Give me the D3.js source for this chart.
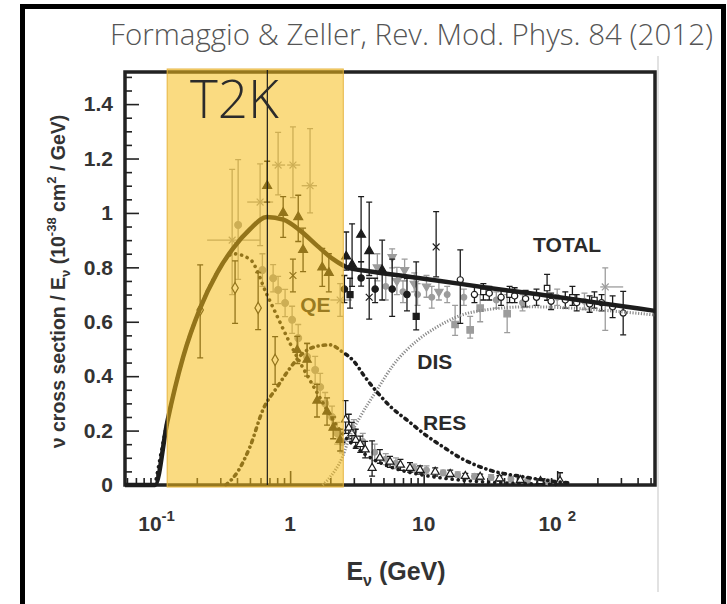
<!DOCTYPE html>
<html>
<head>
<meta charset="utf-8">
<script src="https://cdn.jsdelivr.net/npm/d3@7"></script>
<style>
  body { margin: 0; background: #fff; }
  svg { display: block; font-family: "Liberation Sans", Arial, sans-serif; }
</style>
</head>
<body>
<div id="chart"></div>
<script>
'use strict'

// Curves (E in GeV, sigma/E in 1e-38 cm2/GeV).
const totalCurve = [[0.058, 0], [0.0975, 0], [0.12, 0.23], [0.158, 0.47], [0.212, 0.65], [0.284, 0.78],
    [0.374, 0.87], [0.5, 0.94], [0.67, 0.985], [0.89, 0.975], [1.19, 0.935], [1.59, 0.88], [2.1, 0.83],
    [2.67, 0.80], [4.0, 0.785], [6.7, 0.77], [13.3, 0.75], [30, 0.725], [74, 0.70], [200, 0.67], [540, 0.64]];
const qeCurve = [[0.0975, 0], [0.12, 0.23], [0.158, 0.47], [0.212, 0.65], [0.284, 0.78], [0.374, 0.85],
    [0.5, 0.83], [0.67, 0.70], [0.8, 0.62], [1.0, 0.52], [1.25, 0.43], [1.59, 0.34], [2.0, 0.255],
    [2.45, 0.19], [3.0, 0.145], [4.0, 0.10], [6.0, 0.062], [10, 0.036], [20, 0.017], [50, 0.006], [100, 0.002]];
const resCurve = [[0.33, 0], [0.4, 0.045], [0.5, 0.14], [0.63, 0.28], [0.8, 0.36], [1.0, 0.43], [1.25, 0.485],
    [1.59, 0.51], [2.0, 0.515], [2.45, 0.49], [3.0, 0.455], [3.6, 0.40], [4.5, 0.34], [5.6, 0.29],
    [7.9, 0.23], [10.6, 0.18], [14, 0.14], [18.8, 0.10], [31, 0.055], [56, 0.03], [100, 0.012], [130, 0.006]];
const disCurve = [[1.75, 0], [2.0, 0.03], [2.45, 0.10], [2.81, 0.18], [3.34, 0.25], [4.48, 0.35], [5.9, 0.44],
    [8.9, 0.53], [12.5, 0.58], [23, 0.635], [60, 0.655], [540, 0.625]];

// Data points: [E, value, errDown, errUp] (optional Elow, Ehigh).
const blackTriangles = [[0.673, 1.10, 0.06, 0.09], [0.887, 1.00, 0.09, 0.06], [1.15, 0.985, 0.09, 0.08],
    [1.25, 0.864, 0.08, 0.08], [1.74, 0.80, 0.07, 0.07], [1.95, 0.78, 0.07, 0.07], [2.63, 0.84, 0.05, 0.09],
    [2.91, 0.81, 0.08, 0.15], [3.40, 0.92, 0.10, 0.14], [3.91, 0.86, 0.09, 0.18], [4.89, 0.79, 0.11, 0.11]];
const blackCircles = [[2.55, 0.72, 0.05, 0.05], [3.40, 0.761, 0.03, 0.06], [4.33, 0.72, 0.05, 0.04],
    [5.81, 0.72, 0.10, 0.11], [7.5, 0.70, 0.06, 0.06]];
const blackSquares = [[2.81, 0.70, 0.05, 0.06], [8.79, 0.62, 0.05, 0.20]];
const blackStars = [[1.05, 0.77, 0.06, 0.06], [3.91, 0.69, 0.08, 0.07], [12.4, 0.875, 0.11, 0.13]];
const openCircles = [[18.8, 0.754, 0.16, 0.11], [24, 0.70, 0.03, 0.03], [31, 0.705, 0.025, 0.025],
    [38, 0.69, 0.03, 0.03], [48, 0.695, 0.025, 0.03], [58, 0.685, 0.03, 0.03], [70, 0.69, 0.03, 0.03],
    [90, 0.675, 0.03, 0.03], [115, 0.68, 0.03, 0.03], [140, 0.67, 0.03, 0.03], [175, 0.665, 0.03, 0.03],
    [215, 0.67, 0.03, 0.03], [260, 0.655, 0.04, 0.04], [312, 0.632, 0.08, 0.08]];
const openSquares = [[28, 0.71, 0.03, 0.03], [44, 0.70, 0.03, 0.03], [84, 0.724, 0.045, 0.05],
    [130, 0.69, 0.03, 0.04], [190, 0.68, 0.03, 0.03]];
const graySquares = [[17.2, 0.59, 0.04, 0.07], [22.3, 0.57, 0.03, 0.05], [26.5, 0.65, 0.05, 0.05],
    [42.2, 0.63, 0.07, 0.07]];
const grayTriDown = [[4.5, 0.80, 0.05, 0.05], [5.81, 0.838, 0.04, 0.03], [6.3, 0.75, 0.05, 0.05],
    [7.2, 0.79, 0.04, 0.04], [8.5, 0.74, 0.03, 0.04], [10.5, 0.73, 0.04, 0.04], [13, 0.71, 0.03, 0.04]];
const grayCirclesTotal = [[5.2, 0.73, 0.05, 0.05], [7.0, 0.71, 0.04, 0.04], [9.0, 0.70, 0.04, 0.04],
    [11.5, 0.69, 0.04, 0.04], [15, 0.70, 0.03, 0.03], [20, 0.69, 0.03, 0.03], [35, 0.68, 0.03, 0.03],
    [55, 0.67, 0.03, 0.03], [100, 0.69, 0.03, 0.03], [160, 0.675, 0.03, 0.03]];
const grayStarsH = [[0.368, 0.90, 0.2, 0.26, 0.239, 0.596], [0.596, 1.04, 0.16, 0.14, 0.477, 0.746],
    [0.813, 1.176, 0.11, 0.12, 0.733, 0.917], [1.05, 1.176, 0.12, 0.14, 0.95, 1.19],
    [1.41, 1.10, 0.10, 0.21, 1.22, 1.59], [2.37, 0.68, 0.06, 0.06, 2.0, 2.9], [229, 0.728, 0.16, 0.07, 210, 312]];
const grayCirclesQE = [[0.408, 0.956, 0.2, 0.24], [0.62, 0.79, 0.06, 0.06], [0.746, 0.76, 0.05, 0.05],
    [0.813, 0.717, 0.05, 0.05], [0.917, 0.669, 0.05, 0.05], [1.035, 0.607, 0.05, 0.05], [1.15, 0.54, 0.05, 0.05],
    [1.34, 0.471, 0.05, 0.05], [1.54, 0.423, 0.05, 0.05], [1.68, 0.36, 0.05, 0.05], [1.83, 0.30, 0.04, 0.04],
    [2.06, 0.25, 0.04, 0.04], [2.25, 0.19, 0.04, 0.04], [2.45, 0.158, 0.04, 0.04]];
const qeTriangles = [[1.13, 0.496, 0.05, 0.05], [1.34, 0.46, 0.06, 0.06], [1.59, 0.31, 0.06, 0.06],
    [1.89, 0.27, 0.05, 0.05], [2.10, 0.21, 0.04, 0.04], [2.37, 0.165, 0.04, 0.04]];
const openDiamonds = [[0.212, 0.643, 0.176, 0.166], [0.387, 0.724, 0.13, 0.10], [0.576, 0.651, 0.08, 0.13],
    [0.772, 0.46, 0.09, 0.085]];
const openTriangles = [[2.6, 0.24, 0.05, 0.07], [2.75, 0.21, 0.04, 0.05], [2.9, 0.19, 0.03, 0.04],
    [3.1, 0.165, 0.03, 0.04], [3.35, 0.15, 0.03, 0.03], [3.65, 0.13, 0.03, 0.03], [4.11, 0.0625, 0.03, 0.10],
    [4.7, 0.10, 0.02, 0.03], [5.6, 0.085, 0.02, 0.02], [6.7, 0.074, 0.02, 0.02], [7.9, 0.062, 0.015, 0.02],
    [9.4, 0.055, 0.015, 0.015], [12.2, 0.048, 0.015, 0.015], [15.8, 0.040, 0.01, 0.015], [20.5, 0.033, 0.01, 0.01],
    [26.5, 0.030, 0.01, 0.01], [37, 0.024, 0.01, 0.01], [53, 0.018, 0.008, 0.01], [75, 0.014, 0.008, 0.008],
    [105, 0.015, 0.01, 0.03]];
const grayCirclesLow = [[3.0, 0.20, 0.04, 0.04], [3.5, 0.16, 0.03, 0.03], [4.3, 0.12, 0.03, 0.03],
    [5.2, 0.095, 0.02, 0.02], [6.2, 0.08, 0.02, 0.02], [8.5, 0.062, 0.015, 0.015], [10.5, 0.055, 0.015, 0.015],
    [14, 0.045, 0.01, 0.01], [18, 0.038, 0.01, 0.01], [24, 0.032, 0.01, 0.01], [32, 0.028, 0.01, 0.01],
    [45, 0.022, 0.01, 0.01], [60, 0.018, 0.008, 0.008], [85, 0.012, 0.008, 0.008]];

// Ticks and labels.
const xMajor = [0.1, 1, 10, 100];
const xTickLabels = [['10', '-1'], ['1', ''], ['10', ''], ['10 ', '2']];
const yTicks = [0, 0.2, 0.4, 0.6, 0.8, 1.0, 1.2, 1.4];
const yTickLabels = ['0', '0.2', '0.4', '0.6', '0.8', '1', '1.2', '1.4'];
const curveLabels = [['TOTAL', 66, 0.857], ['DIS', 8.95, 0.426], ['RES', 9.9, 0.202], ['QE', 1.19, 0.636]];
const t2kBand = [0.12, 2.5];
const t2kPeak = 0.675;

// Dimensions.
const width = 727, height = 604;
const plot = {left: 125, right: 655, top: 72, bottom: 485};
const lightFont = '"Open Sans", "Noto Sans", sans-serif';

const svg = d3.select('#chart')
    .append('svg')
        .attr('width', width)
        .attr('height', height);

// Outer frame.
svg.append('rect')
    .attr('x', 22.5).attr('y', 6.5)
    .attr('width', 701).attr('height', 700)
    .attr('fill', 'none').attr('stroke', '#000').attr('stroke-width', 5);

svg.append('line')
    .attr('x1', 658).attr('x2', 658).attr('y1', 56).attr('y2', 592)
    .attr('stroke', '#e2e2e2').attr('stroke-width', 2);

// Scales.
const x = d3.scaleLog().domain([0.058, 540]).range([plot.left, plot.right]);
const y = d3.scaleLinear().domain([0, 1.518]).range([plot.bottom, plot.top]);

// Axes (ticks pointing inside).
const xMinor = x.ticks().filter(v => !xMajor.some(m => Math.abs(m - v) < 1e-9));
const yMinor = y.ticks(30).filter(v => !yTicks.some(m => Math.abs(m - v) < 1e-9));

const axisStyle = g => {
    g.select('.domain').remove();
    g.selectAll('.tick line').attr('stroke', '#222').attr('stroke-width', 1.6);
};

svg.append('g')
    .attr('transform', `translate(0, ${plot.bottom})`)
    .call(d3.axisBottom(x).tickValues(xMajor).tickSize(-14).tickFormat(''))
    .call(axisStyle);
svg.append('g')
    .attr('transform', `translate(0, ${plot.bottom})`)
    .call(d3.axisBottom(x).tickValues(xMinor).tickSize(-7).tickFormat(''))
    .call(axisStyle);
svg.append('g')
    .attr('transform', `translate(${plot.left}, 0)`)
    .call(d3.axisLeft(y).tickValues(yTicks).tickSize(-14).tickPadding(12)
        .tickFormat((d, i) => yTickLabels[i]))
    .call(axisStyle)
    .call(g => g.selectAll('text')
        .attr('fill', '#333').attr('font-size', 21).attr('font-weight', 'bold')
        .attr('font-family', '"Liberation Sans", Arial, sans-serif'));
svg.append('g')
    .attr('transform', `translate(${plot.left}, 0)`)
    .call(d3.axisLeft(y).tickValues(yMinor).tickSize(-7).tickFormat(''))
    .call(axisStyle);

// X tick labels with superscripts.
const xl = svg.append('g').attr('fill', '#333').attr('font-size', 21).attr('font-weight', 'bold');
xMajor.forEach((v, i) => {
    const t = xl.append('text')
        .attr('x', x(v)).attr('y', 531)
        .attr('text-anchor', 'middle');
    t.append('tspan').text(xTickLabels[i][0]);
    if (xTickLabels[i][1]) {
        t.append('tspan').attr('font-size', 15).attr('dy', -10).text(xTickLabels[i][1]);
    }
});

// Axis titles.
const xt = svg.append('text')
    .attr('x', 396).attr('y', 580)
    .attr('text-anchor', 'middle')
    .attr('fill', '#333').attr('font-size', 25).attr('font-weight', 'bold');
xt.append('tspan').text('E');
xt.append('tspan').attr('font-size', 16).attr('dy', 6).text('ν');
xt.append('tspan').attr('dy', -6).text(' (GeV)');

const yt = svg.append('text')
    .attr('transform', `translate(65, ${(plot.top + plot.bottom) / 2 + 3}) rotate(-90)`)
    .attr('text-anchor', 'middle')
    .attr('fill', '#333').attr('font-size', 19.5).attr('font-weight', 'bold');
yt.append('tspan').text('ν cross section / E');
yt.append('tspan').attr('font-size', 13).attr('dy', 5).text('ν');
yt.append('tspan').attr('dy', -5).text(' (10');
yt.append('tspan').attr('font-size', 13).attr('dy', -9).text('-38');
yt.append('tspan').attr('dy', 9).text(' cm');
yt.append('tspan').attr('font-size', 13).attr('dy', -9).text('2');
yt.append('tspan').attr('dy', 9).text(' / GeV)');

// Plot box.
svg.append('rect')
    .attr('x', plot.left).attr('y', plot.top)
    .attr('width', plot.right - plot.left).attr('height', plot.bottom - plot.top)
    .attr('fill', 'none').attr('stroke', '#222').attr('stroke-width', 3.5);

// Data series.
const black = '#1c1c1c', gray = '#9c9c9c';
const dataLayer = svg.append('g');

function drawSeries(data, sym, size, fill, stroke, rotate) {
    const g = dataLayer.append('g');
    const pts = g.selectAll('g').data(data).join('g');
    // vertical error bars
    pts.append('line')
        .attr('x1', d => x(d[0])).attr('x2', d => x(d[0]))
        .attr('y1', d => y(d[1] - d[2])).attr('y2', d => y(d[1] + d[3]))
        .attr('stroke', stroke).attr('stroke-width', 1.3);
    pts.append('path')
        .attr('d', d => `M${x(d[0]) - 3},${y(d[1] - d[2])}h6M${x(d[0]) - 3},${y(d[1] + d[3])}h6`)
        .attr('stroke', stroke).attr('stroke-width', 1.3);
    // horizontal error bars
    pts.filter(d => d.length > 4).append('line')
        .attr('x1', d => x(d[4])).attr('x2', d => x(d[5]))
        .attr('y1', d => y(d[1])).attr('y2', d => y(d[1]))
        .attr('stroke', stroke).attr('stroke-width', 1.3);
    pts.append('path')
        .attr('transform', d => `translate(${x(d[0])},${y(d[1])}) rotate(${rotate || 0})`)
        .attr('d', d3.symbol(sym, size))
        .attr('fill', fill).attr('stroke', stroke).attr('stroke-width', 1.2);
}

drawSeries(grayCirclesLow, d3.symbolCircle, 26, gray, gray);
drawSeries(grayCirclesQE, d3.symbolCircle, 36, gray, gray);
drawSeries(grayStarsH, d3.symbolTimes, 32, 'none', gray);
drawSeries(grayCirclesTotal, d3.symbolCircle, 26, gray, gray);
drawSeries(grayTriDown, d3.symbolTriangle, 30, gray, gray, 180);
drawSeries(graySquares, d3.symbolSquare, 42, gray, gray);
drawSeries(openTriangles, d3.symbolTriangle, 28, '#fff', black);
drawSeries(qeTriangles, d3.symbolTriangle, 30, black, black);
drawSeries(openDiamonds, d3.symbolDiamond, 36, '#fff', black);
drawSeries(openSquares, d3.symbolSquare, 30, '#fff', black);
drawSeries(openCircles, d3.symbolCircle, 30, '#fff', black);
drawSeries(blackStars, d3.symbolTimes, 32, 'none', black);
drawSeries(blackSquares, d3.symbolSquare, 36, black, black);
drawSeries(blackCircles, d3.symbolCircle, 32, black, black);
drawSeries(blackTriangles, d3.symbolTriangle, 34, black, black);

// Curves.
const line = d3.line().x(d => x(d[0])).y(d => y(d[1])).curve(d3.curveMonotoneX);

svg.append('path').datum(disCurve)
    .attr('d', line).attr('fill', 'none')
    .attr('stroke', '#8a8a8a').attr('stroke-width', 3).attr('stroke-dasharray', '1.2 1.6');
svg.append('path').datum(resCurve)
    .attr('d', line).attr('fill', 'none')
    .attr('stroke', black).attr('stroke-width', 3.6).attr('stroke-linecap', 'round')
    .attr('stroke-dasharray', '2.5 5 0.1 5');
svg.append('path').datum(qeCurve)
    .attr('d', line).attr('fill', 'none')
    .attr('stroke', black).attr('stroke-width', 3.6).attr('stroke-linecap', 'round')
    .attr('stroke-dasharray', '0.1 6');
svg.append('path').datum(totalCurve)
    .attr('d', line).attr('fill', 'none')
    .attr('stroke', black).attr('stroke-width', 4.5);

// Curve labels.
svg.append('g').selectAll('text').data(curveLabels).join('text')
    .attr('x', d => x(d[1])).attr('y', d => y(d[2]))
    .attr('fill', '#2a2a2a').attr('font-size', 21).attr('font-weight', 'bold')
    .text(d => d[0]);

// T2K band.
svg.append('rect')
    .attr('x', x(t2kBand[0])).attr('y', plot.top - 3)
    .attr('width', x(t2kBand[1]) - x(t2kBand[0])).attr('height', plot.bottom - plot.top + 5)
    .attr('fill', '#f6bd1a').attr('fill-opacity', 0.55)
    .attr('stroke', '#e6b440').attr('stroke-width', 1);

svg.append('line')
    .attr('x1', x(t2kPeak)).attr('x2', x(t2kPeak))
    .attr('y1', plot.top - 2).attr('y2', plot.bottom)
    .attr('stroke', '#1a1a1a').attr('stroke-width', 1.2);

svg.append('text')
    .attr('x', 190).attr('y', 118)
    .attr('fill', '#2b2b2b').attr('font-size', 53)
    .style('font-family', lightFont).style('font-weight', 300)
    .text('T2K');

// Citation.
svg.append('text')
    .attr('x', 713).attr('y', 45)
    .attr('text-anchor', 'end')
    .attr('fill', '#555').attr('font-size', 29.5)
    .style('font-family', lightFont).style('font-weight', 300)
    .text('Formaggio & Zeller, Rev. Mod. Phys. 84 (2012)');
</script>
</body>
</html>
